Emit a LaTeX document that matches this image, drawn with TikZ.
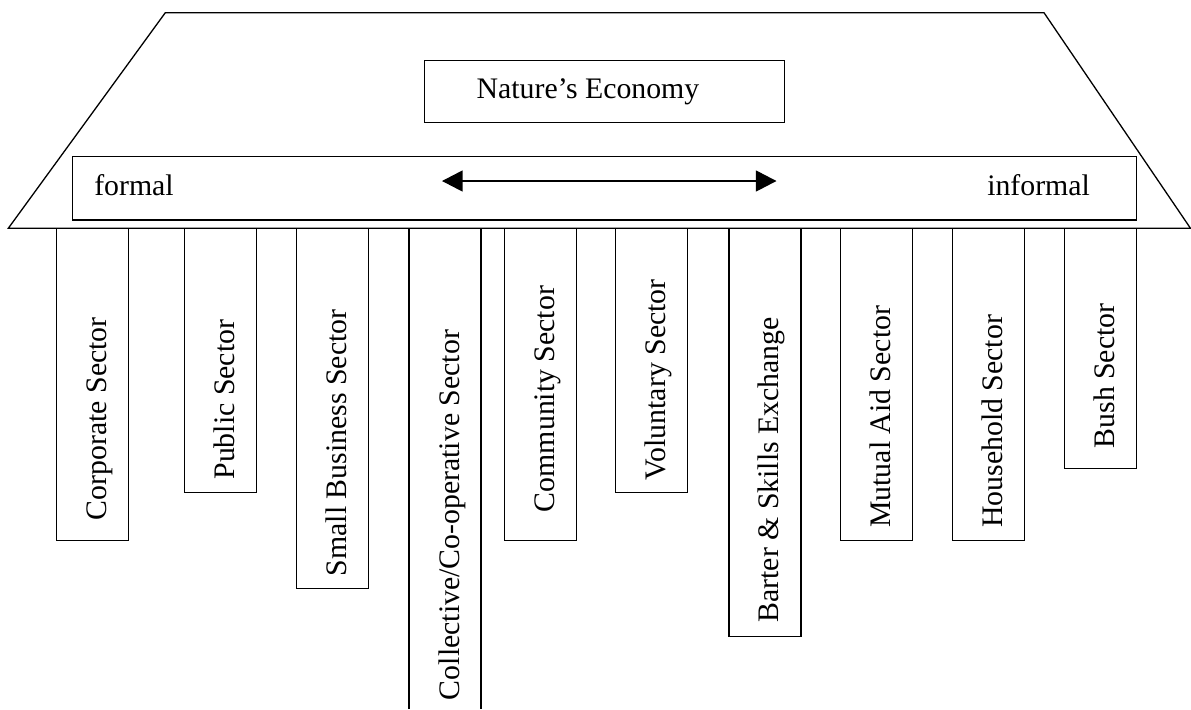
\documentclass[tikz,border=0pt]{standalone}
\usepackage{fontspec}
\setmainfont{Liberation Serif}
\usetikzlibrary{arrows.meta}

\begin{document}
\begin{tikzpicture}[x=0.5pt, y=-0.5pt, line width=0.65pt,
  every node/.style={inner sep=0pt, outer sep=0pt, font=\fontsize{14.9}{17}\selectfont},
  lbl/.style={anchor=base west},
  sectorlbl/.style={anchor=base west, rotate=90}]
\useasboundingbox (0,0) rectangle (1191,709);

\draw (165.3,12.7) -- (1044,12.7) -- (1190.5,228.3) -- (8.3,228.3) -- cycle;
\draw (424.7,60.7) rectangle (784.7,122.5);
\node[lbl] (nature) at (476.7,98.3) {Nature’s Economy};

\draw (72.7,156.7) rectangle (1136.7,220);
\node[lbl] (formal) at (94.3,195) {formal};
\node[lbl] (informal) at (987.3,195) {informal};
\coordinate (lt) at (442,181);
\coordinate (rt) at (776.5,181);
\draw[{Triangle[length=10.3pt,width=10.5pt]}-{Triangle[length=10.3pt,width=10.5pt]}] (lt) -- (rt);

\draw (56.7,228.3) rectangle (128.7,540.5);
\node[sectorlbl] (corporate) at (106.7,520) {Corporate Sector};
\draw (184.5,228.3) rectangle (256.5,492.5);
\node[sectorlbl] (public) at (234.5,479.5) {Public Sector};
\draw (296.3,228.3) rectangle (368.3,588.3);
\node[sectorlbl] (small) at (346.3,576) {Small Business Sector};
\draw (409,709) -- (409,228.3) -- (481,228.3) -- (481,709);
\node[sectorlbl] (collective) at (459,700) {Collective/Co-operative Sector};
\draw (504.4,228.3) rectangle (576.4,540.5);
\node[sectorlbl] (community) at (554.4,512) {Community Sector};
\draw (615.8,228.3) rectangle (687.8,492.5);
\node[sectorlbl] (voluntary) at (665.8,480) {Voluntary Sector};
\draw (728.9,228.3) rectangle (800.9,636.7);
\node[sectorlbl] (barter) at (778.9,622.5) {Barter \& Skills Exchange};
\draw (840.5,228.3) rectangle (912.5,540.5);
\node[sectorlbl] (mutual) at (890.5,527.7) {Mutual Aid Sector};
\draw (952.7,228.3) rectangle (1024.7,540.5);
\node[sectorlbl] (household) at (1002.7,527.7) {Household Sector};
\draw (1064.3,228.3) rectangle (1136.3,468.3);
\node[sectorlbl] (bush) at (1114.3,448.3) {Bush Sector};
\end{tikzpicture}
\end{document}
